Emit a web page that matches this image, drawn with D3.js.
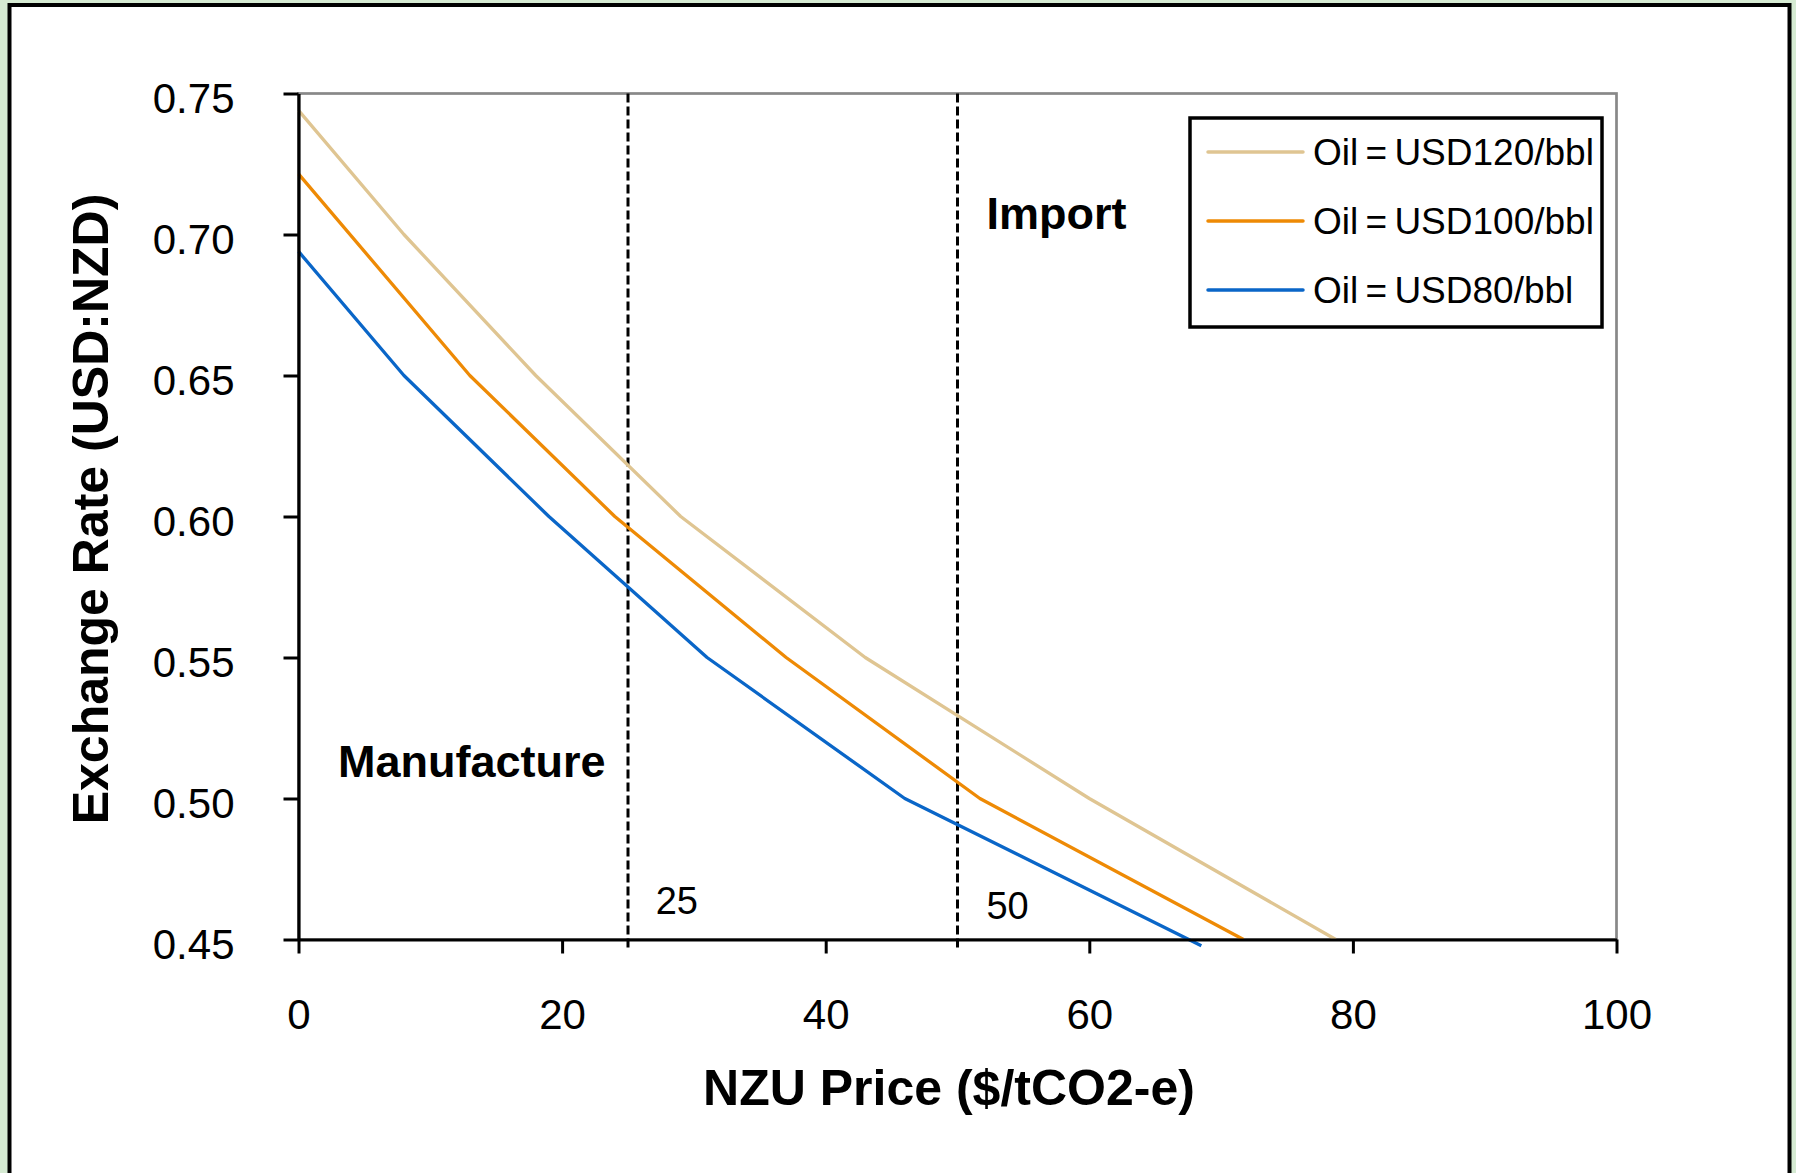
<!DOCTYPE html>
<html>
<head>
<meta charset="utf-8">
<script src="https://cdn.jsdelivr.net/npm/d3@7"></script>
<style>
  body { margin: 0; background: #d5ead2; }
  svg { display: block; font-family: "Liberation Sans", Arial, sans-serif; }
</style>
</head>
<body>
<script>
// values
var xTicks = [0, 20, 40, 60, 80, 100];
var yTicks = [0.45, 0.50, 0.55, 0.60, 0.65, 0.70, 0.75];

var oil120Price = [0, 8, 18, 29, 43, 60, 78.7];
var oil120Rate = [0.744, 0.70, 0.65, 0.60, 0.55, 0.50, 0.45];
var oil100Price = [0, 13, 24, 37, 51.7, 71.7];
var oil100Rate = [0.7215, 0.65, 0.60, 0.55, 0.50, 0.45];
var oil80Price = [0, 8, 19, 31, 46, 68.5];
var oil80Rate = [0.694, 0.65, 0.60, 0.55, 0.50, 0.4478];

var seriesLabels = ["Oil = USD120/bbl", "Oil = USD100/bbl", "Oil = USD80/bbl"];
var thresholds = [25, 50];

var W = 1796, H = 1173;
// plot box (note: "top" is taken by window.top)
var pLeft = 298.5, pRight = 1616.5, pTop = 93.5, pBottom = 939.5;

var svg = d3.select("body").append("svg").attr("width", W).attr("height", H);

// white panel with black frame
svg.append("rect").attr("x", 9.5).attr("y", 5).attr("width", 1780).attr("height", 1300)
  .attr("fill", "#fff").attr("stroke", "#000").attr("stroke-width", 4);

var x = d3.scaleLinear().domain([0, 100]).range([pLeft, pRight]);
var y = d3.scaleLinear().domain([0.45, 0.75]).range([pBottom, pTop]);

// plot border
svg.append("rect").attr("x", pLeft).attr("y", pTop).attr("width", pRight - pLeft).attr("height", pBottom - pTop)
  .attr("fill", "none").attr("stroke", "#888").attr("stroke-width", 2.7);

// threshold lines
svg.selectAll(".thr").data(thresholds).enter().append("line")
  .attr("x1", function (d) { return x(d); }).attr("x2", function (d) { return x(d); })
  .attr("y1", y(0.75)).attr("y2", y(0.45) + 8)
  .attr("stroke", "#000").attr("stroke-width", 3).attr("stroke-dasharray", "9,4");

var series = [
  { name: seriesLabels[0], color: "#dfc592", pts: d3.zip(oil120Price, oil120Rate) },
  { name: seriesLabels[1], color: "#ee8a05", pts: d3.zip(oil100Price, oil100Rate) },
  { name: seriesLabels[2], color: "#0a66c8", pts: d3.zip(oil80Price, oil80Rate) }
];

var line = d3.line().x(function (d) { return x(d[0]); }).y(function (d) { return y(d[1]); });

svg.selectAll(".series").data(series).enter().append("path")
  .attr("d", function (d) { return line(d.pts); })
  .attr("fill", "none").attr("stroke", function (d) { return d.color; })
  .attr("stroke-width", 3.3).attr("stroke-linejoin", "round");

// axes
var yAxis = d3.axisLeft(y).tickValues(yTicks).tickFormat(d3.format(".2f"))
  .tickSize(15).tickSizeOuter(0).tickPadding(49);
var gy = svg.append("g").attr("transform", "translate(" + pLeft + ",0)").call(yAxis);

var xAxis = d3.axisBottom(x).tickValues(xTicks).tickSize(14).tickSizeOuter(0).tickPadding(46);
var gx = svg.append("g").attr("transform", "translate(0," + pBottom + ")").call(xAxis);

[gx, gy].forEach(function (g) {
  g.select(".domain").attr("stroke", "#000").attr("stroke-width", 3.2);
  g.selectAll(".tick line").attr("stroke", "#000").attr("stroke-width", 3);
  g.selectAll(".tick text").attr("font-size", 42).attr("fill", "#000")
    .attr("font-family", "Liberation Sans, Arial, sans-serif");
});
gy.selectAll(".tick text").attr("dy", "0.45em");

// axis titles
svg.append("text").attr("x", 949).attr("y", 1105).attr("text-anchor", "middle")
  .attr("font-size", 50).attr("font-weight", "bold").text("NZU Price ($/tCO2-e)");
svg.append("text").attr("transform", "translate(108,509) rotate(-90)").attr("text-anchor", "middle")
  .attr("font-size", 50).attr("font-weight", "bold").text("Exchange Rate (USD:NZD)");

// region labels
svg.append("text").attr("x", x(3)).attr("y", y(0.5076)).attr("font-size", 45)
  .attr("font-weight", "bold").text("Manufacture");
svg.append("text").attr("x", x(52.2)).attr("y", y(0.7018)).attr("font-size", 45)
  .attr("font-weight", "bold").text("Import");
svg.append("text").attr("x", x(27.1)).attr("y", y(0.4591)).attr("font-size", 38).text(thresholds[0]);
svg.append("text").attr("x", x(52.2)).attr("y", y(0.4573)).attr("font-size", 38).text(thresholds[1]);

// legend
var lg = svg.append("g");
lg.append("rect").attr("x", 1190).attr("y", 118).attr("width", 412).attr("height", 209)
  .attr("fill", "#fff").attr("stroke", "#000").attr("stroke-width", 3.5);
var items = lg.selectAll(".item").data(series).enter().append("g")
  .attr("transform", function (d, i) { return "translate(0," + (152 + i * 69) + ")"; });
items.append("line").attr("x1", 1208).attr("x2", 1303)
  .attr("stroke", function (d) { return d.color; }).attr("stroke-width", 3.5).attr("stroke-linecap", "round");
items.append("text").attr("x", 1313).attr("dy", "0.35em").attr("font-size", 37)
  .attr("word-spacing", -3).text(function (d) { return d.name; });
</script>
</body>
</html>
